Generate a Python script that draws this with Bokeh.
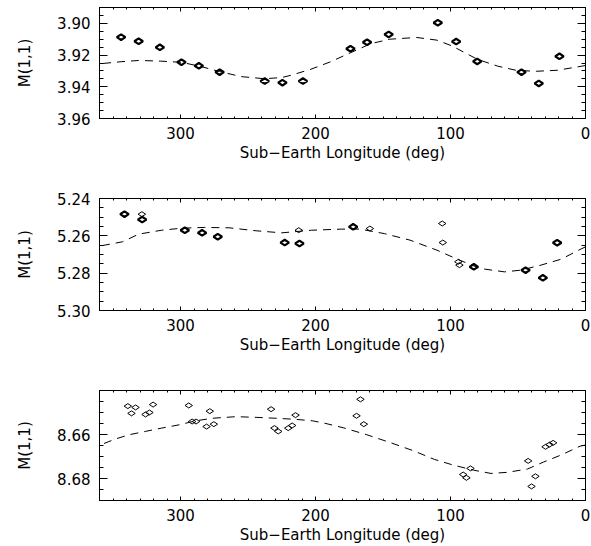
import math
from bokeh.plotting import figure
from bokeh.models import Range1d, FixedTicker, LinearAxis, PrintfTickFormatter
from bokeh.layouts import column
from bokeh.embed import file_html
from bokeh.resources import INLINE

FONT = "DejaVu Sans"
FSIZE = "15px"

# ---------------- data ----------------
x_major = [0, 100, 200, 300]
x_minor = list(range(0, 361, 10))

# Panel 1
p1_lon = [344.0, 331.0, 315.3, 299.3, 286.4, 271.0, 237.6, 224.5, 209.3,
          174.1, 161.8, 145.8, 109.4, 95.8, 80.2, 47.4, 34.6, 19.3]
p1_val = [3.9087, 3.9113, 3.9151, 3.9245, 3.9268, 3.9308, 3.9364, 3.9374, 3.9364,
          3.9160, 3.9119, 3.9070, 3.8996, 3.9115, 3.9240, 3.9308, 3.9379, 3.9208]
p1_fit_lon = [0, 21, 36, 51, 65, 80, 99, 110, 125, 145, 159, 174, 189, 204, 218,
              225, 238, 255, 271, 285, 299, 315, 331, 344, 360]
p1_fit_val = [3.9266, 3.9296, 3.9302, 3.9297, 3.9270, 3.9227, 3.9142, 3.9106, 3.9089,
              3.9100, 3.9128, 3.9185, 3.9243, 3.9291, 3.9327, 3.9342, 3.9349, 3.9336,
              3.9304, 3.9272, 3.9246, 3.9238, 3.9234, 3.9242, 3.9255]
p1_yticks = [3.90, 3.92, 3.94, 3.96]

# Panel 2
p2_bold_lon = [341.5, 328.4, 296.8, 284.0, 272.4, 222.8, 211.9, 172.1, 82.7, 44.4, 31.6, 21.0]
p2_bold_val = [5.2484, 5.2513, 5.2570, 5.2584, 5.2605, 5.2636, 5.2641, 5.2552, 5.2766,
               5.2784, 5.2825, 5.2637]
p2_thin_lon = [328.6, 212.4, 159.7, 106.1, 105.7, 94.2, 93.4]
p2_thin_val = [5.2484, 5.2570, 5.2561, 5.2534, 5.2636, 5.2739, 5.2757]
p2_fit_lon = [0, 4, 18, 33, 48, 60, 78, 95, 110, 130, 149, 167, 181, 203, 225, 244,
              264, 282, 299, 314, 331, 343, 360]
p2_fit_val = [5.2659, 5.2673, 5.2725, 5.2757, 5.2784, 5.2793, 5.2775, 5.2725, 5.2677,
              5.2623, 5.2588, 5.2564, 5.2564, 5.2570, 5.2584, 5.2573, 5.2557, 5.2555,
              5.2559, 5.2570, 5.2591, 5.2632, 5.2655]
p2_yticks = [5.24, 5.26, 5.28, 5.30]

# Panel 3
p3_lon = [339.0, 333.3, 336.3, 325.9, 323.0, 320.3, 293.9, 291.4, 288.5, 278.3, 280.7,
          275.3, 232.9, 230.4, 227.6, 220.2, 217.3, 214.8, 169.6, 166.7, 164.2, 90.6,
          88.2, 85.2, 42.5, 40.0, 37.1, 29.6, 26.7, 24.0]
p3_val = [8.6471, 8.6477, 8.6504, 8.6509, 8.6500, 8.6464, 8.6468, 8.6541, 8.6541, 8.6494,
          8.6564, 8.6553, 8.6485, 8.6571, 8.6586, 8.6571, 8.6559, 8.6512, 8.6515, 8.6440,
          8.6553, 8.6782, 8.6797, 8.6754, 8.6720, 8.6836, 8.6790, 8.6656, 8.6646, 8.6638]
p3_fit_lon = [0, 4, 18, 31, 43, 58, 70, 83, 98, 112, 127, 144, 162, 179, 193, 202, 215,
              230, 244, 259, 276, 289, 301, 314, 326, 338, 348, 360]
p3_fit_val = [8.6648, 8.6653, 8.6693, 8.6725, 8.6757, 8.6772, 8.6777, 8.6762, 8.6739,
              8.6713, 8.6675, 8.6638, 8.6601, 8.6570, 8.6549, 8.6538, 8.6531, 8.6526,
              8.6522, 8.6519, 8.6526, 8.6538, 8.6556, 8.6571, 8.6586, 8.6601, 8.6620,
              8.6649]
p3_yticks = [8.66, 8.68]


def minor_list(lo, hi, step):
    n = int(round((hi - lo) / step))
    return [round(lo + i * step, 4) for i in range(n + 1)]


def style_axis(ax, ticker, tin, tmin, labels=True):
    ax.ticker = ticker
    ax.major_tick_in = tin
    ax.major_tick_out = 0
    ax.minor_tick_in = tmin
    ax.minor_tick_out = 0
    ax.axis_line_color = "black"
    ax.major_tick_line_color = "black"
    ax.minor_tick_line_color = "black"
    if labels:
        ax.major_label_text_font = FONT
        ax.major_label_text_font_size = FSIZE
        ax.major_label_text_color = "black"
        ax.axis_label_text_font = FONT
        ax.axis_label_text_font_size = FSIZE
        ax.axis_label_text_font_style = "normal"
        ax.axis_label_text_color = "black"
    else:
        ax.major_label_text_color = None
        ax.major_label_text_font_size = "0px"
        ax.major_label_standoff = 0
        ax.axis_label = None


def make_panel(height, top, bottom, ylo, yhi, yticks):
    p = figure(width=591, height=height, x_range=Range1d(360, 0),
               y_range=Range1d(yhi, ylo), output_backend="svg",
               toolbar_location=None, min_border_left=99, min_border_right=6,
               min_border_top=top, min_border_bottom=bottom)
    p.xgrid.visible = False
    p.ygrid.visible = False
    p.outline_line_color = "black"
    p.outline_line_width = 1
    p.background_fill_color = "white"
    p.border_fill_color = "white"

    xt = FixedTicker(ticks=x_major, minor_ticks=x_minor)
    yt = FixedTicker(ticks=yticks, minor_ticks=minor_list(ylo, yhi, 0.005))

    xa = p.xaxis[0]
    style_axis(xa, xt, 4, 2)
    xa.axis_label = "Sub\u2212Earth Longitude (deg)"
    xa.major_label_standoff = 8
    xa.axis_label_standoff = 2

    ya = p.yaxis[0]
    style_axis(ya, yt, 8, 4)
    ya.formatter = PrintfTickFormatter(format="%.2f")
    ya.axis_label = "M(1,1)"
    ya.major_label_standoff = 9
    ya.axis_label_standoff = 20

    top_ax = LinearAxis()
    style_axis(top_ax, FixedTicker(ticks=x_major, minor_ticks=x_minor), 4, 2, labels=False)
    p.add_layout(top_ax, "above")
    right_ax = LinearAxis()
    style_axis(right_ax, FixedTicker(ticks=yticks, minor_ticks=minor_list(ylo, yhi, 0.005)),
               8, 4, labels=False)
    p.add_layout(right_ax, "right")
    return p


def diamonds(p, xs, ys, bold):
    p.scatter(xs, ys, marker="diamond", size=8.5 if bold else 7.5, angle=math.pi / 2,
              line_color="black", fill_color=None, line_width=2.2 if bold else 1)


p1 = make_panel(178, 7, 60, 3.89, 3.96, p1_yticks)
p1.line(p1_fit_lon, p1_fit_val, line_color="black", line_width=1, line_dash="8 6")
diamonds(p1, p1_lon, p1_val, True)

p2 = make_panel(192, 20, 60, 5.24, 5.30, p2_yticks)
p2.line(p2_fit_lon, p2_fit_val, line_color="black", line_width=1, line_dash="8 6")
diamonds(p2, p2_bold_lon, p2_bold_val, True)
diamonds(p2, p2_thin_lon, p2_thin_val, False)

p3 = make_panel(176, 20, 46, 8.64, 8.69, p3_yticks)
p3.line(p3_fit_lon, p3_fit_val, line_color="black", line_width=1, line_dash="8 6")
diamonds(p3, p3_lon, p3_val, False)

layout = column(p1, p2, p3, spacing=0)
open("out.html", "w").write(file_html(layout, INLINE))
